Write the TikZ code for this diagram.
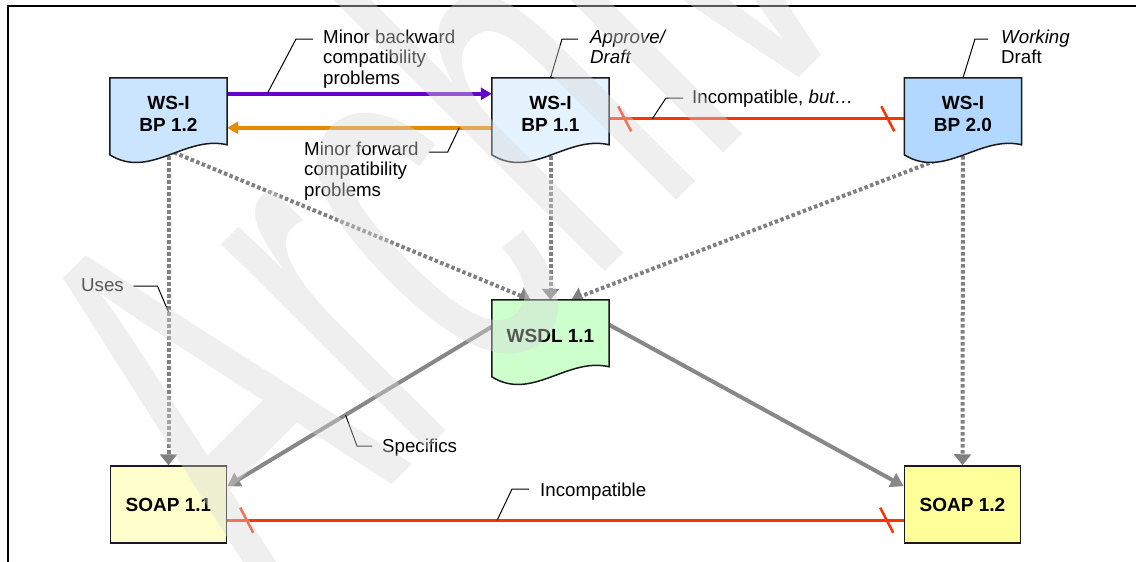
\documentclass[tikz,border=0pt]{standalone}
\usepackage{fontspec}
\setmainfont{Liberation Sans}
\usetikzlibrary{arrows.meta,calc}
\pgfdeclarelayer{back}
\pgfdeclarelayer{bg}
\pgfdeclarelayer{docs}
\pgfdeclarelayer{fg}
\pgfsetlayers{back,bg,docs,main,fg}

\definecolor{bpA}{HTML}{CCE5FF}
\definecolor{bpB}{HTML}{E5F2FF}
\definecolor{bpC}{HTML}{B2D8FF}
\definecolor{wsdlcol}{HTML}{CCFFCC}
\definecolor{soapA}{HTML}{FFFFCC}
\definecolor{soapB}{HTML}{FFFF99}
\definecolor{purplecol}{HTML}{6600CC}
\definecolor{orangecol}{HTML}{E88A00}
\definecolor{redcol}{HTML}{FF3300}
\definecolor{dotgray}{HTML}{808080}
\definecolor{solidgray}{HTML}{888888}
\definecolor{boxcol}{HTML}{1A1A1A}
\definecolor{wmgray}{HTML}{D9D9D9}

\tikzset{
  docnode/.style={rectangle, minimum width=117pt, minimum height=72pt, inner sep=0pt,
    align=center, font=\fontsize{19}{21.7}\selectfont\bfseries},
  boxnode/.style={rectangle, draw=boxcol, line width=1.5pt, minimum width=116pt,
    minimum height=77pt, inner sep=0pt, font=\fontsize{19}{21.7}\selectfont\bfseries},
  boxline/.style={draw=boxcol, line width=1.5pt},
  lbl/.style={anchor=north west, inner sep=0pt, align=left, font=\fontsize{18.7}{20.5}\selectfont},
  leader/.style={draw=black, line width=1pt},
  dotarrow/.style={draw=dotgray, line width=4pt, dash pattern=on 3.5pt off 2.5pt,
    -{Triangle[length=11pt,width=17pt]}},
  grayarrow/.style={draw=solidgray, line width=4pt, -{Triangle[length=13pt,width=15pt]}},
  purplearrow/.style={draw=purplecol, line width=4pt, -{Triangle[length=11pt,width=12pt]}},
  orangearrow/.style={draw=orangecol, line width=4pt, -{Triangle[length=11pt,width=12pt]}},
  redline/.style={draw=redcol, line width=3pt},
  tickmark/.style={draw=redcol, line width=2.5pt},
  frameline/.style={draw=black, line width=1.3pt},
  wm/.style={anchor=base west, rotate=45, xscale=0.55, inner sep=0pt, text=wmgray,
    text opacity=0.4, font=\fontsize{550}{550}\selectfont}
}

\newcommand\docshape[2]{%
  \begin{pgfonlayer}{docs}
  \filldraw[boxline, fill=#2] (#1.north west) -- (#1.north east) -- ($(#1.north east)+(0,67)$)
    .. controls ($(#1.north east)+(-42,57)$) and ($(#1.north west)+(40,102)$) .. ($(#1.north west)+(0,77)$) -- cycle;
  \end{pgfonlayer}}

\begin{document}
\begin{tikzpicture}[x=1pt,y=-1pt]
\useasboundingbox (0,0) rectangle (1136,562);
\begin{pgfonlayer}{back}
\fill[white] (0,0) rectangle (1136,562);
\end{pgfonlayer}
\draw[frameline] (1136,6) -- (8,6) -- (8,562);

% boxes
\node[docnode] (bp12) at (168.5,114) {WS-I\\BP 1.2};
\node[docnode] (bp11) at (550.5,114) {WS-I\\BP 1.1};
\node[docnode] (bp20) at (963,114) {WS-I\\BP 2.0};
\node[docnode] (wsdl) at (550.5,336) {WSDL 1.1};
\node[boxnode, fill=soapA] (soap11) at (168.5,504.5) {SOAP 1.1};
\node[boxnode, fill=soapB] (soap12) at (962.5,504.5) {SOAP 1.2};
\docshape{bp12}{bpA}
\docshape{bp11}{bpB}
\docshape{bp20}{bpC}
\docshape{wsdl}{wsdlcol}

% labels
\node[lbl] (L1) at (323,29.6) {Minor backward\\compatibility\\problems};
\node[lbl] (L2) at (304,141.6) {Minor forward\\compatibility\\problems};
\node[lbl] (L3) at (590,29.6) {\textit{Approve/}\\\textit{Draft}};
\node[lbl] (L4) at (1001,29.6) {\textit{Working}\\Draft};
\node[lbl] (L5) at (692,89.6) {Incompatible, \textit{but…}};
\node[lbl] (L6) at (81,278.6) {Uses};
\node[lbl] (L7) at (382,438.6) {Specifics};
\node[lbl] (L8) at (540,482.6) {Incompatible};

% connectors
\begin{pgfonlayer}{bg}
\draw[purplearrow] ($(bp12.north east)+(0,16)$) -- coordinate[pos=0.151] (lp1) ($(bp11.north west)+(0,16)$);
\draw[orangearrow] ($(bp11.north west)+(0,50)$) -- coordinate[pos=0.123] (lp2) ($(bp12.north east)+(0,50)$);
\draw[redline] ($(bp11.north east)+(0,41)$) -- coordinate[pos=0.146] (lp5) ($(bp20.north west)+(0,41)$);
\draw[redline] ($(soap11.north east)+(0,55)$) -- coordinate[pos=0.399] (lp8) ($(soap12.north west)+(0,55)$);
\draw[tickmark] ($(bp11.north east)+(15.5,41)+(-6.5,-12.5)$) -- ++(13,25);
\draw[tickmark] ($(bp20.north west)+(-16.5,41)+(-6.5,-12.5)$) -- ++(13,25);
\draw[tickmark] ($(soap11.north east)+(19.5,55)+(-6.5,-12.5)$) -- ++(13,25);
\draw[tickmark] ($(soap12.north west)+(-17,55)+(-6.5,-12.5)$) -- ++(13,25);
\draw[dotarrow] (bp12.south) -- coordinate[pos=0.513] (lp6) (soap11.north);
\draw[dotarrow] (bp12.south) -- ($(wsdl.north)+(-20,0)$);
\draw[dotarrow] (bp11.south) -- (wsdl.north);
\draw[dotarrow] (bp20.south) -- ($(wsdl.north)+(21,0)$);
\draw[dotarrow] (bp20.south) -- (soap12.north);
\draw[grayarrow] ($(wsdl.north west)+(0,27)$) -- coordinate[pos=0.553] (lp7) ($(soap11.north east)+(0,21)$);
\draw[grayarrow] ($(wsdl.north east)+(0,25)$) -- ($(soap12.north west)+(0,21)$);
\end{pgfonlayer}

% leaders
\draw[leader] (lp1) -- ($(L1.north west)+(-27,9.4)$) -- ($(L1.north west)+(-10,9.4)$);
\draw[leader] (lp2) -- ($(L2.north east)+(29,10.4)$) -- ($(L2.north east)+(10,10.4)$);
\draw[leader] (bp11.north) -- ($(L3.north west)+(-28,9.4)$) -- ($(L3.north west)+(-12,9.4)$);
\draw[leader] (bp20.north) -- ($(L4.north west)+(-26,9.4)$) -- ($(L4.north west)+(-13,9.4)$);
\draw[leader] (lp5) -- ($(L5.north west)+(-26,8.4)$) -- ($(L5.north west)+(-9,8.4)$);
\draw[leader] (lp6) -- ($(L6.north east)+(33.4,7.4)$) -- ($(L6.north east)+(9.4,7.4)$);
\draw[leader] (lp7) -- ($(L7.north west)+(-25,7.4)$) -- ($(L7.north west)+(-10,7.4)$);
\draw[leader] (lp8) -- ($(L8.north west)+(-28,6.4)$) -- ($(L8.north west)+(-11,6.4)$);

% watermark
\begin{pgfonlayer}{fg}
\node[wm] (wmark) at (270,607) {Archive};
\end{pgfonlayer}
\end{tikzpicture}
\end{document}
